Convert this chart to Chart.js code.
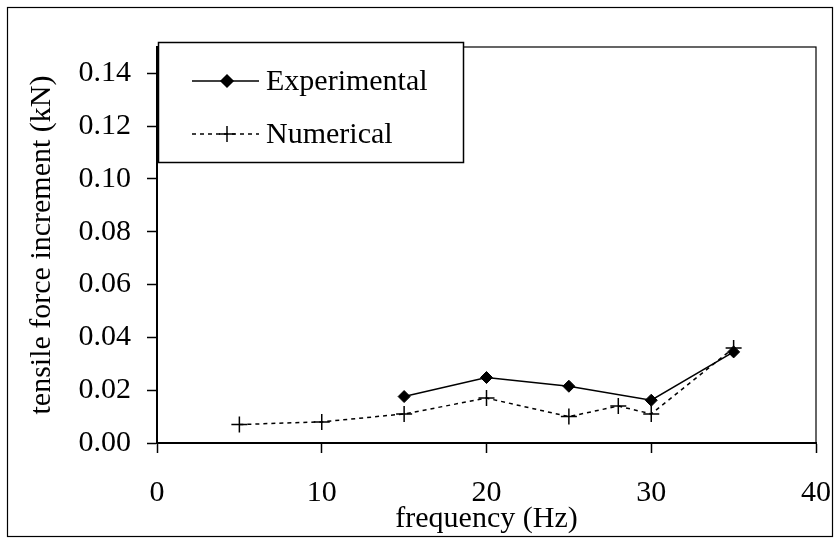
<!DOCTYPE html>
<html>
<head>
<meta charset="utf-8">
<script src="https://cdn.jsdelivr.net/npm/chart.js@4/dist/chart.umd.min.js"></script>
<style>
  html, body { margin: 0; padding: 0; background: #fff; }
  #wrap { width: 839px; height: 544px; }
</style>
</head>
<body>
<div id="wrap"><canvas id="chart" width="839" height="544"></canvas></div>
<script>
const expFreq = [15, 20, 25, 30, 35];
const expForce = [0.0176, 0.0248, 0.0215, 0.0162, 0.0345];
const numFreq = [5, 10, 15, 20, 25, 28, 30, 35];
const numForce = [0.007, 0.008, 0.011, 0.017, 0.010, 0.014, 0.011, 0.036];
const xTicks = [0, 10, 20, 30, 40];
const yTicks = [0, 0.02, 0.04, 0.06, 0.08, 0.10, 0.12, 0.14];

const serif = "'Liberation Serif', 'Times New Roman', serif";

// outer frame, plot frame and the legend box inside the plot
const framePlugin = {
    id: 'frames',
    afterDraw(chart) {
        const ctx = chart.ctx;
        const a = chart.chartArea;
        ctx.save();
        ctx.strokeStyle = '#000';
        ctx.lineWidth = 1.2;
        ctx.strokeRect(7.5, 7.5, 825, 529);
        ctx.strokeRect(a.left, a.top, a.right - a.left, a.bottom - a.top);

        // legend
        const lx = 158, ly = 42, lw = 305, lh = 120;
        ctx.fillStyle = '#fff';
        ctx.fillRect(lx, ly, lw, lh);
        ctx.lineWidth = 1.5;
        ctx.strokeRect(lx + 0.5, ly + 0.5, lw, lh);

        const rows = [
            { ds: chart.data.datasets[0], y: 81, tx: 266 },
            { ds: chart.data.datasets[1], y: 134, tx: 266 }
        ];
        rows.forEach(r => {
            ctx.strokeStyle = '#000';
            ctx.fillStyle = '#000';
            ctx.beginPath();
            ctx.setLineDash(r.ds.borderDash || []);
            ctx.lineWidth = r.ds.borderWidth;
            ctx.moveTo(192, r.y);
            ctx.lineTo(259, r.y);
            ctx.stroke();
            ctx.setLineDash([]);
            Chart.helpers.drawPoint(ctx, {
                pointStyle: r.ds.pointStyle,
                radius: r.ds.pointRadius,
                borderWidth: r.ds.pointBorderWidth || 1.5
            }, 227, r.y);
            ctx.font = '30px ' + serif;
            ctx.textBaseline = 'middle';
            ctx.textAlign = 'left';
            ctx.fillText(r.ds.label, r.tx, r.y + 1);
        });
        ctx.restore();
    }
};

new Chart(document.getElementById('chart'), {
    type: 'line',
    data: {
        datasets: [
            {
                label: 'Experimental',
                data: expFreq.map((f, i) => ({ x: f, y: expForce[i] })),
                borderColor: '#000',
                backgroundColor: '#000',
                borderWidth: 1.5,
                pointStyle: 'rectRot',
                pointRadius: 6,
                pointBorderWidth: 1,
                pointBackgroundColor: '#000',
                tension: 0
            },
            {
                label: 'Numerical',
                data: numFreq.map((f, i) => ({ x: f, y: numForce[i] })),
                borderColor: '#000',
                backgroundColor: '#000',
                borderWidth: 1.5,
                borderDash: [4, 4],
                pointStyle: 'cross',
                pointRadius: 8,
                pointBorderWidth: 1.5,
                tension: 0
            }
        ]
    },
    options: {
        responsive: false,
        animation: false,
        layout: { padding: { left: 0, top: 47, right: 23, bottom: 0 } },
        plugins: { legend: { display: false }, tooltip: { enabled: false } },
        scales: {
            x: {
                type: 'linear',
                min: 0, max: 40,
                afterBuildTicks: s => { s.ticks = xTicks.map(v => ({ value: v })); },
                afterFit: s => { s.height = 101; s.paddingLeft = 0; s.paddingRight = 0; },
                grid: { drawOnChartArea: false, color: '#000', tickLength: 10, tickWidth: 1.5 },
                border: { color: '#000', width: 2 },
                ticks: { color: '#000', padding: 22, font: { family: serif, size: 30 }, maxRotation: 0 },
                title: { display: true, text: 'frequency (Hz)', color: '#000', font: { family: serif, size: 30 }, padding: { top: 0, bottom: 7 } }
            },
            y: {
                min: 0, max: 0.15,
                afterBuildTicks: s => { s.ticks = yTicks.map(v => ({ value: v })); },
                afterFit: s => { s.width = 157; s.paddingTop = 0; s.paddingBottom = 0; },
                grid: { drawOnChartArea: false, color: '#000', tickLength: 10, tickWidth: 1.5 },
                border: { color: '#000', width: 2 },
                ticks: { color: '#000', padding: 16, font: { family: serif, size: 30 }, callback: v => v.toFixed(2) },
                title: { display: true, text: 'tensile force increment (kN)', color: '#000', font: { family: serif, size: 30 }, padding: { top: 24, bottom: 0 } }
            }
        }
    },
    plugins: [framePlugin]
});
</script>
</body>
</html>
